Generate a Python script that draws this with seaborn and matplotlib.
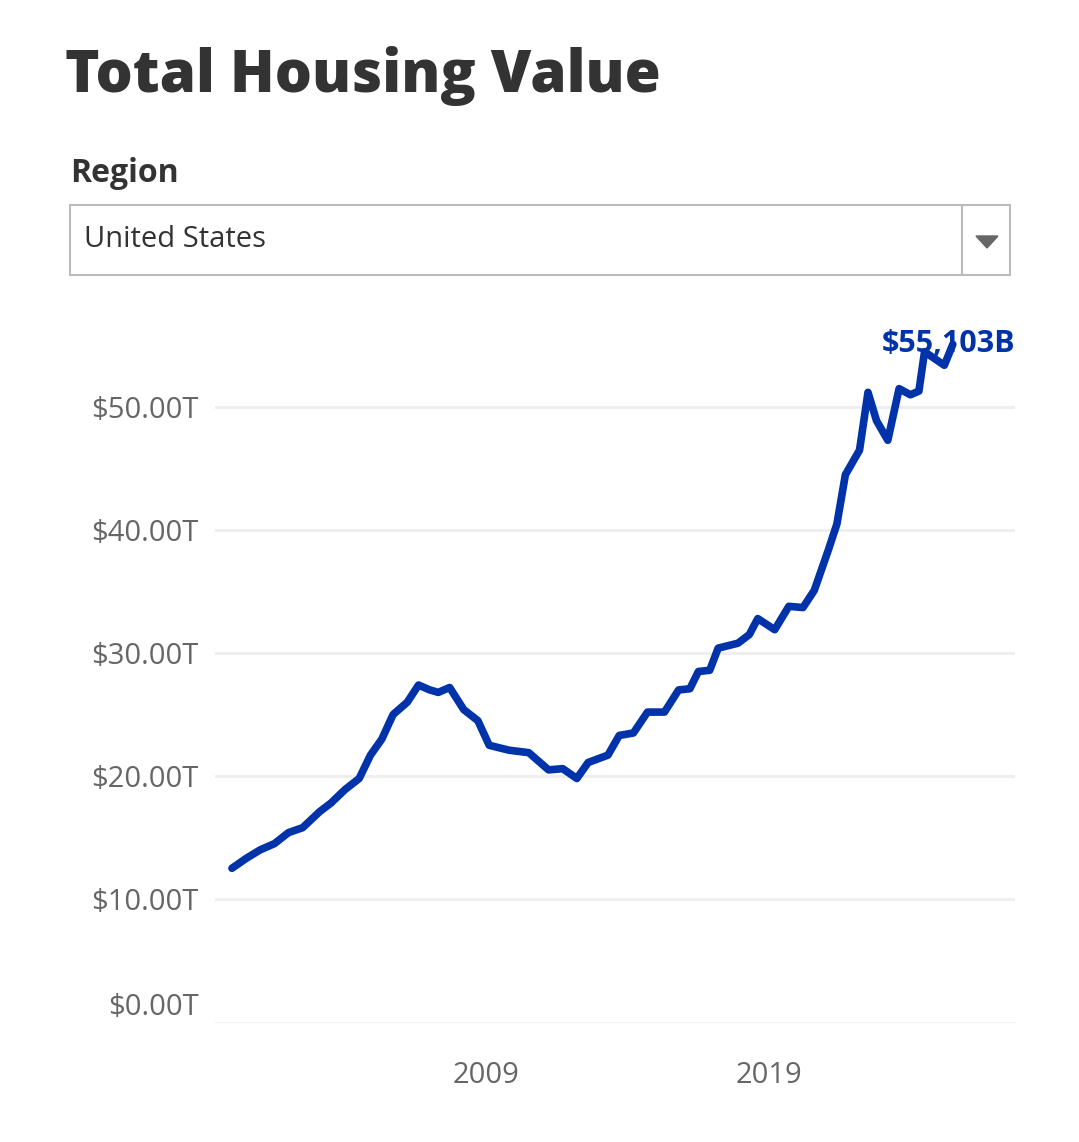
import matplotlib
matplotlib.use('Agg')
import matplotlib.pyplot as plt
from matplotlib.patches import Rectangle, Polygon
import seaborn as sns
import pandas as pd

# 数据（从图中读取，单位：万亿美元）
years = [2000.0, 2000.5, 2001.0, 2001.5, 2002.0, 2002.5, 2003.1, 2003.5, 2004.0, 2004.5,
         2004.9, 2005.3, 2005.7, 2006.2, 2006.6, 2007.0, 2007.3, 2007.7, 2008.2, 2008.7,
         2009.1, 2009.8, 2010.5, 2011.2, 2011.7, 2012.2, 2012.6, 2013.3, 2013.7, 2014.2,
         2014.7, 2015.3, 2015.8, 2016.2, 2016.5, 2016.9, 2017.2, 2017.9, 2018.3, 2018.6,
         2019.2, 2019.7, 2020.2, 2020.6, 2021.1, 2021.4, 2021.7, 2022.2, 2022.5, 2022.8,
         2023.2, 2023.6, 2024.0, 2024.3, 2024.5, 2025.2, 2025.5]
values = [12.5, 13.3, 14.0, 14.5, 15.4, 15.8, 17.1, 17.8, 18.9, 19.8,
          21.7, 23.0, 25.0, 26.0, 27.4, 27.0, 26.8, 27.2, 25.4, 24.5,
          22.5, 22.1, 21.9, 20.5, 20.6, 19.8, 21.1, 21.7, 23.3, 23.5,
          25.2, 25.2, 27.0, 27.1, 28.5, 28.6, 30.4, 30.8, 31.5, 32.8,
          31.9, 33.8, 33.7, 35.1, 38.4, 40.5, 44.5, 46.5, 51.2, 48.9,
          47.3, 51.5, 51.0, 51.3, 54.5, 53.4, 55.1]
y_ticks = [0, 10, 20, 30, 40, 50]
x_ticks = [2009, 2019]
last_label = "$55,103B"

df = pd.DataFrame({'year': years, 'value': values})

sns.set_style('white')
plt.rcParams['font.family'] = ['Open Sans', 'DejaVu Sans']

W, H = 1079, 1142
fig = plt.figure(figsize=(W / 100, H / 100), dpi=100)
ax = fig.add_axes([215 / W, 120 / H, 800 / W, 701 / H])

sns.lineplot(data=df, x='year', y='value', ax=ax, color='#0033aa', linewidth=5.5,
             solid_capstyle='round', solid_joinstyle='round')

ax.set_xlim(1999.4, 2027.7)
ax.set_ylim(0, 57)
ax.set_yticks(y_ticks)
ax.set_yticklabels([f'${v:.2f}T' for v in y_ticks], fontsize=21, color='#666666')
ax.get_yticklabels()[0].set_va('bottom')
ax.set_xticks(x_ticks)
ax.set_xticklabels([str(v) for v in x_ticks], fontsize=21, color='#666666')
ax.set_xticks([y for y in range(2000, 2028) if y not in x_ticks], minor=True)
ax.tick_params(axis='y', length=0, pad=12)
ax.tick_params(axis='x', which='major', length=8, color='#dddddd', pad=20)
ax.tick_params(axis='x', which='minor', length=3, color='#e6e6e6')
ax.grid(axis='y', color='#eeeeee', linewidth=2)
ax.get_ygridlines()[0].set_visible(False)
for s in ['top', 'right', 'left']:
    ax.spines[s].set_visible(False)
ax.spines['bottom'].set_color('#f2f2f2')
ax.set_xlabel('')
ax.set_ylabel('')

ax.text(years[-1] + 2.2, values[-1], last_label, ha='right', va='center',
        fontsize=22, fontweight='bold', color='#0033aa')

# 标题与下拉框
fig.text(65 / W, 1 - 76 / H, 'Total Housing Value', fontsize=42, fontweight='heavy',
         color='#333333', va='center')
fig.text(70 / W, 1 - 173 / H, 'Region', fontsize=23, fontweight='bold',
         color='#333333', va='center')
fig.patches.append(Rectangle((70 / W, 1 - 275 / H), 940 / W, 70 / H,
                             transform=fig.transFigure, fill=False,
                             edgecolor='#bbbbbb', linewidth=1.5))
fig.add_artist(plt.Line2D([962 / W, 962 / W], [1 - 275 / H, 1 - 205 / H],
                          transform=fig.transFigure, color='#bbbbbb', linewidth=1.5))
fig.patches.append(Polygon([(976 / W, 1 - 236 / H), (998 / W, 1 - 236 / H),
                            (987 / W, 1 - 248 / H)], closed=True,
                           transform=fig.transFigure, color='#666666'))
fig.text(84 / W, 1 - 240 / H, 'United States', fontsize=21, color='#333333', va='center')

fig.savefig('out.png', dpi=100)
